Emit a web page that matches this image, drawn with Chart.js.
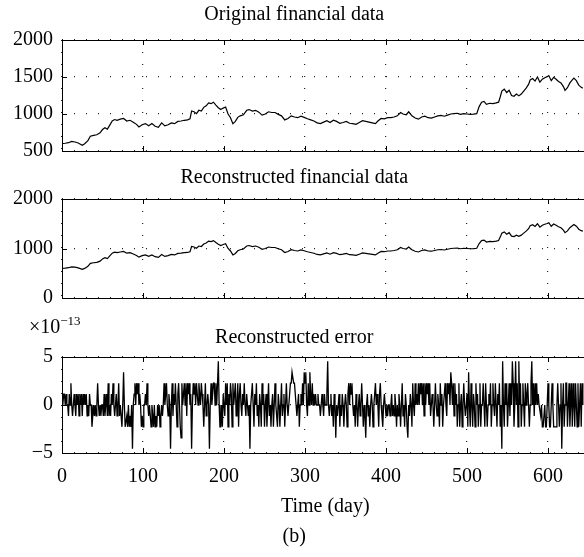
<!DOCTYPE html>
<html><head><meta charset="utf-8">
<script src="https://cdn.jsdelivr.net/npm/chart.js@4.4.1/dist/chart.umd.min.js"></script>
<style>
html,body{margin:0;padding:0;width:584px;height:557px;overflow:hidden;background:#fff;}
canvas{position:absolute;left:0;}
#mult{position:absolute;left:29px;top:314px;font:20px "Liberation Serif","Times New Roman",serif;color:#000;white-space:nowrap;line-height:24px;}
#mult span{font-size:13px;position:relative;top:-8px;}
</style></head><body>
<canvas id="c1" width="600" height="172" style="top:0px"></canvas>
<canvas id="c2" width="600" height="159" style="top:160px"></canvas>
<canvas id="c3" width="600" height="239" style="top:318px"></canvas>
<div id="mult">×10<span>−13</span></div>
<script>
// ---- data ----
const days = [
0,4,8,12,16,20,25,28,32,35,
39,43,47,50,53,56,59,62,65,68,
72,76,80,84,88,92,95,99,103,107,
111,115,119,123,127,131,135,139,143,147,
151,155,158,160,163,166,169,172,175,178,
181,184,187,190,193,196,199,202,205,208,
211,214,217,220,224,228,231,235,239,243,
247,251,255,259,263,267,271,275,279,283,
287,291,295,299,303,307,311,315,319,323,
327,331,335,339,343,347,351,355,359,363,
367,371,375,379,383,387,390,394,398,402,
406,410,414,418,421,425,428,432,436,440,
444,448,452,456,460,464,468,472,476,480,
484,488,492,496,500,504,508,512,515,518,
521,524,528,532,536,539,541,543,546,549,
552,555,558,561,564,567,570,573,576,578,
581,584,587,590,593,596,599,601,604,607,
610,613,616,619,621,624,627,630,632,635,
638,641,643];
const originalPrice = [
600,605,612,630,622,608,578,598,640,700,
712,720,745,790,815,795,850,905,925,915,
930,940,905,915,890,860,825,855,870,840,
870,835,820,880,840,855,880,870,900,905,
915,920,935,1040,1030,1005,1050,1040,1090,1110,
1150,1140,1160,1120,1085,1060,1080,1095,1000,950,
870,900,955,975,990,1050,1060,1040,1050,1025,
985,1000,1030,1020,1020,995,975,920,940,975,
960,950,970,955,935,920,905,880,870,890,
910,885,915,900,875,885,900,875,870,860,
885,910,900,890,880,870,905,940,935,950,
950,960,975,1020,1000,990,1030,975,945,930,
960,970,950,945,960,975,980,970,985,1000,
1005,1010,995,1005,1000,995,998,1005,1100,1160,
1170,1130,1145,1140,1150,1160,1230,1310,1335,1290,
1320,1250,1240,1270,1245,1270,1310,1350,1400,1460,
1480,1445,1500,1430,1470,1490,1505,1520,1450,1495,
1470,1440,1420,1370,1320,1355,1420,1460,1485,1450,
1390,1360,1350];
const reconstructedPrice = originalPrice.slice();
// reconstruction error, one value per day, in steps of the quantum (x1e-13)
const errorStep = 1.137;
const errorLevels = [
1,0,1,1,0,1,0,0,-1,1, 0,2,0,-1,0,1,0,-1,1,0, 1,-1,1,0,1,-1,1,0,1,0, 1,-1,0,-1,1,0,0,-2,-1,0,
-1,0,-1,0,2,0,-1,0,-1,0, 0,-1,1,-1,0,1,-1,2,-1,0, -1,1,0,2,0,-1,0,1,-1,0, 2,-1,0,-1,-2,0,3,0,-2,-2,
-1,-2,0,-2,-1,-2,0,-4,0,1, 2,0,2,1,2,0,1,0,-2,-1, -2,0,0,1,0,2,0,-1,0,-1, -2,0,-1,-2,0,-2,-1,-2,0,-1,
0,-2,-1,0,-1,0,2,0,1,2, 0,-1,1,0,-4,0,2,-1,1,0, 2,0,-2,1,2,0,-2,-3,2,0, 1,2,0,2,-1,2,1,2,0,1,
-4,0,2,1,2,0,2,1,0,2, 1,0,2,1,0,-2,0,2,-1,0, 1,0,-4,0,2,0,1,2,2,0, 2,0,2,4,0,-2,-2,0,-2,1,
0,-1,2,0,2,-2,1,0,2,1, -2,2,0,1,2,-1,0,2,-2,1, 2,0,-1,1,0,2,0,-1,1,0, -1,0,-4,0,1,2,0,-2,1,0,
2,-1,0,-2,1,0,-2,2,0,1, -2,0,1,-2,0,2,-1,0,-2,0, 1,-2,0,2,0,-1,-2,1,0,-2, 0,2,-1,0,1,-2,0,2,0,-1,
0,1,2,2,3,3,2,2,1,0, -1,0,1,-2,0,1,0,2,0,3, 2,3,0,-1,2,0,3,1,0,2, 0,1,0,1,0,0,1,0,0,-1,
0,1,0,-1,1,0,0,1,4,0, -1,0,1,-1,0,-2,1,0,-3,0, -1,0,1,-2,0,-1,1,0,-2,0, 1,0,-2,1,2,0,2,1,2,0,
-1,0,-2,1,0,-2,0,1,-1,0, 2,0,-2,0,-1,-3,0,1,-1,0, -2,0,1,0,-2,0,1,2,0,1, 0,-2,1,2,0,-1,-2,0,1,0,
-1,0,-1,0,0,-1,0,1,-1,0, -1,1,0,-2,0,-1,1,0,-2,0, 2,-1,0,-2,1,0,-2,-3,0,-1, 1,0,-2,2,0,-1,2,0,1,0,
2,0,2,1,2,0,2,-1,2,0, 2,1,2,0,2,-1,0,1,0,-2, 0,2,0,-1,1,0,-2,2,0,1, -2,0,1,2,0,-1,2,1,2,0,
3,2,0,2,-1,2,0,1,-2,0, 2,-2,0,1,-2,0,2,0,-1,0, 1,-2,3,0,-2,2,0,-2,1,0, -2,2,0,1,-2,0,2,-2,0,0,
2,0,-2,2,0,-2,0,1,0,2, -2,0,2,0,-1,2,0,-2,1,0, 2,-2,0,-4,4,0,-2,2,0,2, -2,0,2,-1,2,0,4,2,-2,0,
4,0,2,-2,4,0,2,-2,0,2, 0,-2,2,0,1,2,0,-2,0,2, 4,0,2,-1,2,0,2,0,1,0, 0,-1,0,-2,-2,-2,0,-2,-2,0,
2,0,-2,-2,0,2,0,-2,-2,-2, -2,0,2,0,-2,0,2,-4,0,2, -2,0,2,2,-2,0,2,-2,0,2, -2,2,0,-2,2,0,-2,2,-2,0,
2,-2,2,0];
const xTickValues = [0,100,200,300,400,500,600];
const panelTitles = ['Original financial data','Reconstructed financial data','Reconstructed error'];
const xAxisTitle = 'Time (day)';
const figureLabel = '(b)';

// ---- drawing ----
const FONT = '"Liberation Serif","Times New Roman",serif';
const font20 = {family: FONT, size: 20, weight: 'normal'};
const X_MAX = 650;

const boxPlugin = {
  id: 'boxTicks',
  afterDatasetsDraw(chart) {
    const {ctx, chartArea: a, scales: {x, y}} = chart;
    ctx.save();
    ctx.strokeStyle = '#000'; ctx.lineWidth = 1; ctx.setLineDash([]);
    const L = Math.round(a.left) + 0.5, T = Math.round(a.top) + 0.5;
    ctx.strokeRect(L, T, Math.round(a.right - a.left), Math.round(a.bottom - a.top));
    ctx.beginPath();
    x.ticks.forEach(t => {
      if (t.value <= x.min || t.value >= x.max) return;
      const px = Math.round(x.getPixelForValue(t.value)) + 0.5;
      ctx.moveTo(px, a.bottom); ctx.lineTo(px, a.bottom - 5);
      ctx.moveTo(px, a.top); ctx.lineTo(px, a.top + 5);
    });
    y.ticks.forEach(t => {
      if (t.value <= y.min || t.value >= y.max) return;
      const py = Math.round(y.getPixelForValue(t.value)) + 0.5;
      ctx.moveTo(a.left, py); ctx.lineTo(a.left + 5, py);
    });
    ctx.stroke();
    ctx.restore();
  }
};

function makeChart(id, cfg) {
  const grid = {color: '#222', lineWidth: 1.2, drawTicks: false};
  const border = {display: false, dash: [1, 11]};
  return new Chart(document.getElementById(id), {
    type: 'line',
    data: {datasets: [{data: cfg.points, borderColor: '#000', borderWidth: cfg.lw || 1.2,
      pointRadius: 0, tension: 0, fill: false}]},
    options: {
      responsive: false, animation: false, devicePixelRatio: 1,
      layout: {padding: {left: 0, right: 600 - (62 + X_MAX * 0.81), top: 0, bottom: cfg.padBottom}},
      plugins: {
        legend: {display: false}, tooltip: {enabled: false},
        title: {display: true, text: cfg.title, color: '#000', font: font20,
          padding: {top: cfg.tTop, bottom: cfg.tBottom}},
        subtitle: cfg.subtitle || {display: false}
      },
      scales: {
        x: {type: 'linear', min: 0, max: X_MAX,
          afterBuildTicks: s => { s.ticks = xTickValues.map(v => ({value: v})); },
          afterFit: s => { s.height = cfg.xHeight; },
          grid: grid, border: border,
          ticks: {display: cfg.showX, color: '#000', font: font20, padding: 12, maxRotation: 0,
            callback: v => String(v)},
          title: cfg.xTitle || {display: false}
        },
        y: {min: cfg.yMin, max: cfg.yMax,
          afterBuildTicks: s => { s.ticks = cfg.yTicks.map(v => ({value: v})); },
          afterFit: s => { s.width = 62; },
          grid: grid, border: border,
          ticks: {color: '#000', font: font20, padding: 9,
            callback: v => v < 0 ? '\u2212' + Math.abs(v) : String(v)}
        }
      }
    },
    plugins: [boxPlugin]
  });
}

const pricePts = days.map((d, i) => ({x: d, y: originalPrice[i]}));
const recPts = days.map((d, i) => ({x: d, y: reconstructedPrice[i]}));
const errPts = errorLevels.map((v, i) => ({x: i, y: v * errorStep}));

makeChart('c1', {points: pricePts, title: panelTitles[0], tTop: 3, tBottom: 13, padBottom: 15, xHeight: 0,
  yMin: 500, yMax: 2000, yTicks: [500, 1000, 1500, 2000], showX: false});
makeChart('c2', {points: recPts, title: panelTitles[1], tTop: 6, tBottom: 9, padBottom: 15, xHeight: 0,
  yMin: 0, yMax: 2000, yTicks: [0, 1000, 2000], showX: false});
makeChart('c3', {points: errPts, lw: 1.3, title: panelTitles[2], tTop: 8, tBottom: 7, padBottom: 0, xHeight: 66,
  yMin: -5, yMax: 5, yTicks: [-5, 0, 5], showX: true,
  xTitle: {display: true, text: xAxisTitle, color: '#000', font: font20, padding: {top: 6, bottom: 0}},
  subtitle: {display: true, position: 'bottom', text: figureLabel, color: '#000', font: font20,
    padding: {top: 6, bottom: 8}}});
</script>
</body></html>
